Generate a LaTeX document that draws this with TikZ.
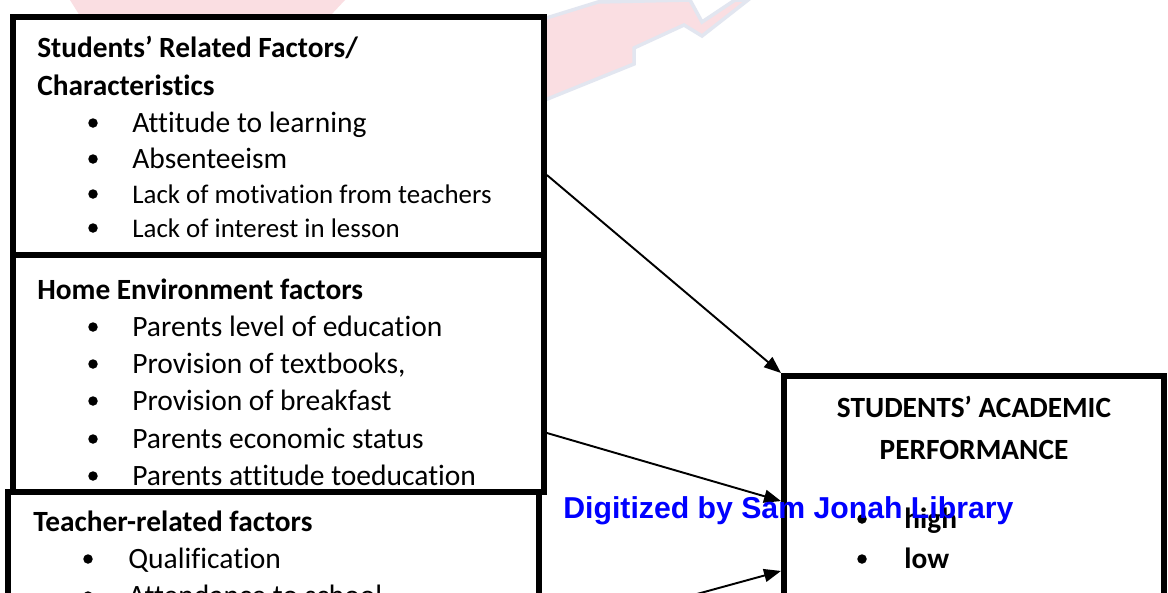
\documentclass[tikz,border=0pt]{standalone}
\usepackage{fontspec}
\setmainfont{Carlito}[Ligatures={NoCommon}]
\newfontfamily\stampfont{Liberation Sans}
\usetikzlibrary{arrows.meta,calc}

\begin{document}
\begin{tikzpicture}[x=0.02cm, y=-0.02cm,
    factorbox/.style={rectangle, draw, fill=white, line width=3.4pt, anchor=north west, inner sep=0pt},
    heading/.style={anchor=base west, inner sep=0pt, font=\fontsize{16.7}{20}\selectfont\bfseries},
    point/.style={anchor=base west, inner sep=0pt, font=\fontsize{16.8}{20}\selectfont},
    smallpoint/.style={point, font=\fontsize{15.3}{18}\selectfont},
    dot/.style={circle, fill=black, inner sep=0pt, minimum size=0.19cm},
    link/.style={line width=1.1pt, -{Triangle[length=0.34cm, width=0.26cm]}},
    crest/.style={fill={rgb,255:red,250;green,222;blue,226}, draw={rgb,255:red,226;green,230;blue,240}, line width=2pt}
]
    \useasboundingbox (0,0) rectangle (1168,592);
    \clip (0,0) rectangle (1168,592);
    \fill[white] (0,0) rectangle (1168,592);

    % faint crest behind the boxes
    \fill[crest, draw=none] (70,0) -- (345,0) -- (330,16) -- (80,16) -- cycle;
    \filldraw[crest] (540,20) -- (598,2) -- (690,0) -- (702,22) -- (735,0) -- (748,0)
        -- (702,36) -- (684,25) -- (634,48) -- (634,64) -- (540,102) -- cycle;

    % factor boxes
    \node[factorbox, minimum width=10.62cm, minimum height=4.76cm] (stu) at (10,14) {};
    \node[heading] (stuhead) at (37,57) {Students’ Related Factors/};
    \node[heading] (stuhead2) at (37,95) {Characteristics};
    \foreach \txt/\y [count=\i] in {Attitude to learning/132, Absenteeism/168} {
        \node[dot] (sd\i) at (93,\y-9) {};
        \node[point] (s\i) at (132,\y) {\txt};
    }
    \foreach \txt/\y [count=\i from 3] in {Lack of motivation from teachers/203, Lack of interest in lesson/237} {
        \node[dot] (sd\i) at (93,\y-9) {};
        \node[smallpoint] (s\i) at (132,\y) {\txt};
    }

    \node[factorbox, minimum width=10.62cm, minimum height=4.74cm] (home) at (10,252) {};
    \node[heading] (homehead) at (37,299) {Home Environment factors};
    \foreach \txt/\y [count=\i] in {Parents level of education/336, {Provision of textbooks,}/373,
            Provision of breakfast/410, Parents economic status/448, Parents attitude toeducation/485} {
        \node[dot] (hd\i) at (93,\y-9) {};
        \node[point] (h\i) at (132,\y) {\txt};
    }

    \node[factorbox, minimum width=10.62cm, minimum height=4.88cm] (teach) at (5,489) {};
    \node[heading] (teachhead) at (33,531) {Teacher-related factors};
    \foreach \txt/\y [count=\i] in {Qualification/568, Attendance to school/605} {
        \node[dot] (td\i) at (88,\y-9) {};
        \node[point] (t\i) at (128,\y) {\txt};
    }

    % outcome box
    \node[factorbox, minimum width=7.6cm, minimum height=5.88cm] (perf) at (781,373) {};
    \node[heading, anchor=base] (perfhead) at (974,417) {STUDENTS’ ACADEMIC};
    \node[heading, anchor=base] (perfhead2) at (974,459) {PERFORMANCE};
    \foreach \txt/\y [count=\i] in {high/528, low/568} {
        \node[dot] (pd\i) at (862,\y-9) {};
        \node[heading] (p\i) at (904,\y) {\txt};
    }

    % links into performance
    \draw[link] ($(stu.north east)!0.66!(stu.south east)$) -- (perf.north west);
    \draw[link] ($(home.north east)!0.745!(home.south east)$) -- ($(perf.north west)!0.427!(perf.south west)$);
    \draw[link] ($(teach.north east)!0.59!(teach.south east)$) -- ($(perf.north west)!0.66!(perf.south west)$);

    \node[anchor=base west, inner sep=0pt, text={rgb,255:red,0;green,0;blue,255},
        font=\stampfont\bfseries\fontsize{17.2}{20}\selectfont] (stamp) at (563,518) {Digitized by Sam Jonah Library};
\end{tikzpicture}
\end{document}
